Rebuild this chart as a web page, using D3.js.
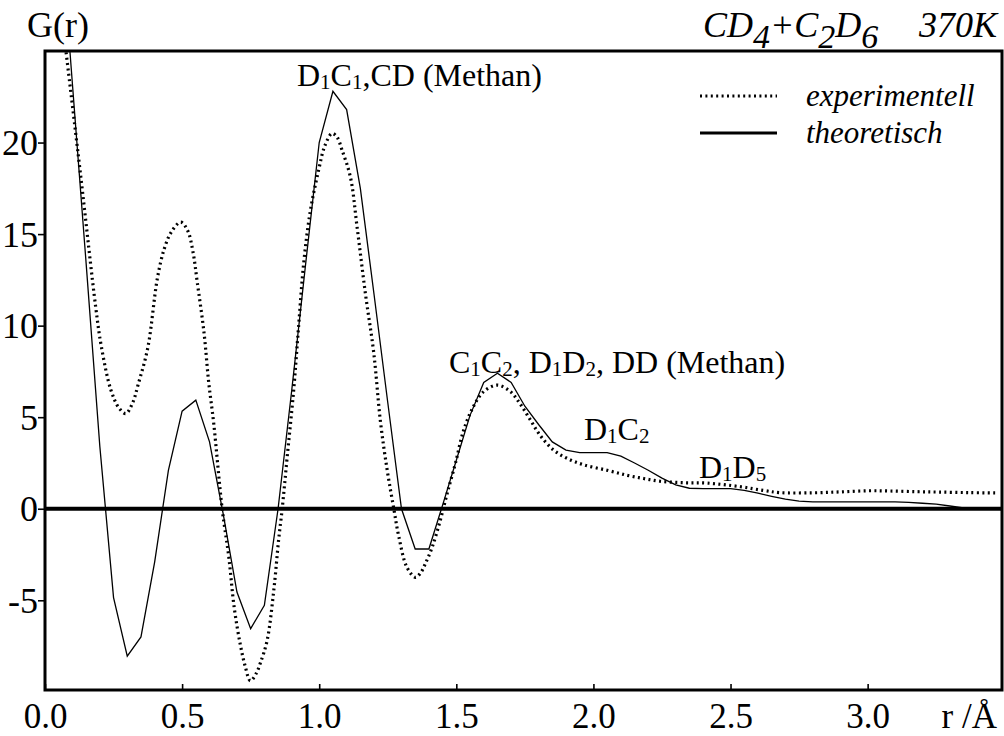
<!DOCTYPE html>
<html>
<head>
<meta charset="utf-8">
<script src="https://cdn.jsdelivr.net/npm/d3@7/dist/d3.min.js"></script>
<style>
  html, body { margin: 0; padding: 0; background: #fff; }
  svg { display: block; }
  text { font-family: "Liberation Serif", "Times New Roman", serif; fill: #000; }
</style>
</head>
<body>
<svg id="chart" width="1004" height="736"></svg>
<script>
// Radial distribution function G(r) of CD4 + C2D6 at 370 K

const SERIF = "'Liberation Serif', 'Times New Roman', serif";

// theoretical curve, sampled every 0.05 Å
const theoR = [0.05, 0.10, 0.15, 0.20, 0.25, 0.30, 0.35, 0.40, 0.45, 0.50,
               0.55, 0.60, 0.65, 0.70, 0.75, 0.80, 0.85, 0.90, 0.95, 1.00,
               1.05, 1.10, 1.15, 1.20, 1.25, 1.30, 1.35, 1.40, 1.45, 1.50,
               1.55, 1.60, 1.65, 1.70, 1.75, 1.80, 1.85, 1.90, 1.95, 2.00,
               2.05, 2.10, 2.15, 2.20, 2.25, 2.30, 2.35, 2.40, 2.45, 2.50,
               2.55, 2.60, 2.65, 2.70, 2.75, 2.80, 2.85, 2.90, 2.95, 3.00,
               3.05, 3.10, 3.15, 3.20, 3.25, 3.30, 3.35, 3.40, 3.45];
const theoG = [33.0, 23.2, 13.4, 3.4, -4.85, -8.05, -7.0, -2.9, 2.1, 5.33,
               5.93, 3.65, -0.3, -4.55, -6.55, -5.27, 0.0, 6.5, 13.3, 20.0,
               22.8, 21.8, 17.5, 11.7, 5.8, 0.0, -2.2, -2.2, 0.2, 2.65,
               5.1, 6.9, 7.4, 6.9, 5.6, 4.6, 3.65, 3.2, 3.07, 3.07,
               3.07, 2.87, 2.5, 2.1, 1.67, 1.3, 1.12, 1.1, 1.1, 1.1,
               1.0, 0.85, 0.68, 0.52, 0.42, 0.38, 0.37, 0.37, 0.38, 0.38,
               0.38, 0.37, 0.35, 0.3, 0.25, 0.15, 0.05, 0.0, 0.0];

// experimental curve
const exptR = [0.07, 0.13, 0.185, 0.205, 0.24, 0.27, 0.295, 0.32, 0.34, 0.375,
               0.41, 0.435, 0.46, 0.495, 0.52, 0.54, 0.555, 0.58, 0.597, 0.615,
               0.646, 0.67, 0.69, 0.712, 0.73, 0.749, 0.77, 0.786, 0.81, 0.834,
               0.852, 0.865, 0.883, 0.907, 0.925, 0.944, 0.968, 0.998, 1.02, 1.047,
               1.065, 1.083, 1.114, 1.138, 1.168, 1.199, 1.223, 1.248, 1.272, 1.29,
               1.32, 1.351, 1.37, 1.387, 1.412, 1.442, 1.466, 1.497, 1.527, 1.563,
               1.60, 1.649, 1.697, 1.734, 1.77, 1.806, 1.855, 1.904, 1.964, 2.05,
               2.122, 2.183, 2.243, 2.33, 2.415, 2.537, 2.62, 2.68, 2.80, 2.90,
               3.00, 3.08, 3.18, 3.26, 3.37, 3.477];
const exptG = [25.8, 18.2, 11.0, 8.9, 6.5, 5.5, 5.2, 5.8, 6.8, 8.8,
               12.6, 14.2, 15.1, 15.65, 15.2, 14.0, 12.4, 9.6, 6.9, 4.7,
               0.0, -2.6, -5.4, -7.4, -8.6, -9.4, -9.0, -8.4, -7.2, -4.5,
               -1.7, 0.0, 2.8, 6.5, 10.0, 13.5, 16.3, 18.5, 19.8, 20.5,
               20.3, 19.6, 18.1, 15.4, 11.8, 8.5, 4.8, 2.1, 0.0, -1.5,
               -3.2, -3.75, -3.5, -3.0, -2.1, -0.6, 0.8, 2.5, 4.3, 5.6,
               6.4, 6.75, 6.4, 5.7, 4.85, 4.0, 3.2, 2.75, 2.4, 2.1,
               1.83, 1.65, 1.5, 1.42, 1.4, 1.2, 1.0, 0.88, 0.87, 0.92,
               0.98, 0.97, 0.93, 0.91, 0.88, 0.86];

const xTicks = [0.0, 0.5, 1.0, 1.5, 2.0, 2.5, 3.0];
const xTickLabels = ["0.0", "0.5", "1.0", "1.5", "2.0", "2.5", "3.0"];
const yTicks = [-5, 0, 5, 10, 15, 20];
const yTickLabels = ["-5", "0", "5", "10", "15", "20"];

const legendLabels = ["experimentell", "theoretisch"];

const svg = d3.select("#chart");
const W = 1004, H = 736;
const plot = { left: 45, right: 1002, top: 51, bottom: 690 };

const x = d3.scaleLinear().domain([0, 3.49]).range([plot.left, plot.right]);
const y = d3.scaleLinear().domain([-9.9, 25]).range([plot.bottom, plot.top]);

svg.append("rect").attr("width", W).attr("height", H).attr("fill", "#fff");

svg.append("defs").append("clipPath").attr("id", "plotClip")
  .append("rect")
  .attr("x", plot.left).attr("y", plot.top)
  .attr("width", plot.right - plot.left).attr("height", plot.bottom - plot.top);

// zero line
svg.append("line")
  .attr("x1", plot.left).attr("x2", plot.right)
  .attr("y1", y(0)).attr("y2", y(0))
  .attr("stroke", "#000").attr("stroke-width", 4);

const curves = svg.append("g").attr("clip-path", "url(#plotClip)");

const theoData = theoR.map((r, i) => [r, theoG[i]]);
const exptData = exptR.map((r, i) => [r, exptG[i]]);

curves.append("path")
  .datum(exptData)
  .attr("fill", "none")
  .attr("stroke", "#000")
  .attr("stroke-width", 3.2)
  .attr("stroke-dasharray", "2,3.4")
  .attr("d", d3.line().x(d => x(d[0])).y(d => y(d[1])).curve(d3.curveCatmullRom.alpha(0.5)));

curves.append("path")
  .datum(theoData)
  .attr("fill", "none")
  .attr("stroke", "#000")
  .attr("stroke-width", 1.3)
  .attr("stroke-linejoin", "miter")
  .attr("d", d3.line().x(d => x(d[0])).y(d => y(d[1])));

// axes
const yAxis = d3.axisLeft(y)
  .tickValues(yTicks)
  .tickSize(7)
  .tickPadding(6)
  .tickFormat((d, i) => yTickLabels[i]);
const gy = svg.append("g").attr("transform", `translate(${plot.left},0)`).call(yAxis)
  .attr("font-family", SERIF);
gy.select(".domain").remove();
gy.selectAll(".tick line").attr("stroke", "#000").attr("stroke-width", 1.6);
gy.selectAll(".tick text")
  .attr("font-size", 36)
  .attr("font-family", SERIF)
  .attr("x", -7)
  .attr("dy", "0.34em");

const xAxis = d3.axisBottom(x)
  .tickValues(xTicks)
  .tickSize(-6)
  .tickFormat((d, i) => xTickLabels[i]);
const gx = svg.append("g").attr("transform", `translate(0,${plot.bottom})`).call(xAxis)
  .attr("font-family", SERIF);
gx.select(".domain").remove();
gx.selectAll(".tick line").attr("stroke", "#000").attr("stroke-width", 1.6);
gx.selectAll(".tick text")
  .attr("font-size", 35)
  .attr("font-family", SERIF)
  .attr("y", 38)
  .attr("dy", 0);

// frame
svg.append("rect")
  .attr("x", plot.left).attr("y", plot.top)
  .attr("width", plot.right - plot.left).attr("height", plot.bottom - plot.top)
  .attr("fill", "none").attr("stroke", "#000").attr("stroke-width", 3);

// axis titles
svg.append("text").attr("x", 27).attr("y", 37).attr("font-size", 36).text("G(r)");
svg.append("text").attr("x", 997).attr("y", 728).attr("font-size", 35)
  .attr("text-anchor", "end").text("r /Å");

// title
const title = svg.append("text").attr("x", 703).attr("y", 37)
  .attr("font-size", 36).attr("font-style", "italic");
const titleParts = [["CD", 0], ["4", 1], ["+C", 0], ["2", 1], ["D", 0], ["6", 1]];
titleParts.forEach(([t, sub], i) => {
  const prevSub = i > 0 ? titleParts[i - 1][1] : 0;
  const dy = sub && !prevSub ? 11 : (!sub && prevSub ? -11 : 0);
  title.append("tspan").attr("dy", dy).attr("font-size", sub ? 34 : 36).text(t);
});
svg.append("text").attr("x", 997).attr("y", 37).attr("font-size", 36)
  .attr("font-style", "italic").attr("text-anchor", "end").text("370K");

// legend
const legY = [96, 133];
svg.append("line").attr("x1", 700).attr("x2", 777).attr("y1", legY[0]).attr("y2", legY[0])
  .attr("stroke", "#000").attr("stroke-width", 3.2).attr("stroke-dasharray", "2,3.4");
svg.append("line").attr("x1", 700).attr("x2", 777).attr("y1", legY[1]).attr("y2", legY[1])
  .attr("stroke", "#000").attr("stroke-width", 3);
legendLabels.forEach((lab, i) => {
  svg.append("text").attr("x", 806).attr("y", legY[i] + 10)
    .attr("font-size", 31).attr("font-style", "italic").text(lab);
});

// peak assignments: pieces of [text, isSubscript]
const annotations = [
  { x: 297, y: 86, parts: [["D", 0], ["1", 1], ["C", 0], ["1", 1], [",CD (Methan)", 0]] },
  { x: 449, y: 373, parts: [["C", 0], ["1", 1], ["C", 0], ["2", 1], [", D", 0], ["1", 1], ["D", 0], ["2", 1], [", DD (Methan)", 0]] },
  { x: 584, y: 440, parts: [["D", 0], ["1", 1], ["C", 0], ["2", 1]] },
  { x: 699, y: 478, parts: [["D", 0], ["1", 1], ["D", 0], ["5", 1]] }
];
annotations.forEach(a => {
  const t = svg.append("text").attr("x", a.x).attr("y", a.y).attr("font-size", 32);
  a.parts.forEach(([s, sub], i) => {
    const prevSub = i > 0 ? a.parts[i - 1][1] : 0;
    const dy = sub && !prevSub ? 3 : (!sub && prevSub ? -3 : 0);
    t.append("tspan").attr("dy", dy).attr("font-size", sub ? 21 : 32).text(s);
  });
});
</script>
</body>
</html>
